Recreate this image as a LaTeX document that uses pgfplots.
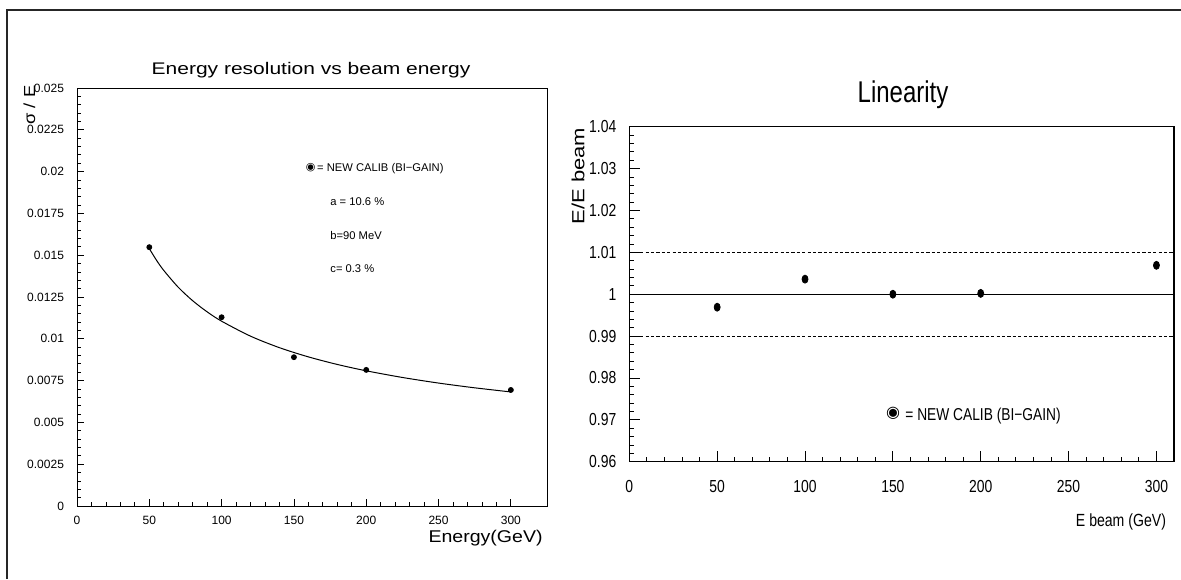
\documentclass[border=0pt]{standalone}
\usepackage{pgfplots}
\usepackage{pgfplotstable}
\pgfplotsset{compat=1.18}
\usepackage{fontspec}
\setmainfont{Liberation Sans}
\newfontfamily\narrowfont[FakeStretch=0.8]{Liberation Sans}
\newfontfamily\widefont[FakeStretch=1.25]{Liberation Sans}
\newfontfamily\medfont[FakeStretch=1.15]{Liberation Sans}
\newfontfamily\symfont{DejaVu Sans}
\newcommand{\fs}[1]{\fontsize{#1}{#1}\selectfont}

\pgfplotstableread{
E res
50 0.01548
100 0.01129
150 0.00890
200 0.00814
300 0.00694
}\resdata

\pgfplotstableread{
E f
50 0.015393
55 0.014696
60 0.014090
70 0.013083
80 0.012277
90 0.011612
100 0.011053
120 0.010158
140 0.009469
160 0.008919
180 0.008466
200 0.008086
225 0.007688
250 0.007353
275 0.007069
300 0.006822
}\fitdata

\pgfplotstableread{
E lin
50 0.9969
100 1.0036
150 1.0000
200 1.0002
300 1.0069
}\lindata

\begin{document}
\begin{tikzpicture}
\useasboundingbox (0,0) rectangle (590.5pt,289.5pt);
\draw[line width=0.8pt, black!85] (3.5pt,0pt) -- (3.5pt,284.5pt) -- (590.5pt,284.5pt);

% ---------------- left panel ----------------
\begin{axis}[at={(38.5pt,36.5pt)}, anchor=south west, scale only axis,
  width=235pt, height=209pt,
  xmin=0, xmax=325, ymin=0, ymax=0.025,
  scaled x ticks=false, scaled y ticks=false,
  xtick={0,50,100,150,200,250,300},
  xticklabels={0,50,100,150,200,250,300},
  ytick={0,0.0025,0.005,0.0075,0.01,0.0125,0.015,0.0175,0.02,0.0225,0.025},
  yticklabels={0,0.0025,0.005,0.0075,0.01,0.0125,0.015,0.0175,0.02,0.0225,0.025},
  minor x tick num=4, minor y tick num=4,
  tick pos=left, tick align=inside,
  major tick length=3.5pt, minor tick length=1.8pt,
  axis line style={line width=0.5pt},
  tick style={line width=0.4pt, black},
  xticklabel style={font=\fs{6}, yshift=-1.5pt},
  yticklabel style={font=\fs{6}, xshift=-3pt},
]
\addplot[no marks, line width=0.5pt, smooth] table[x=E, y=f]{\fitdata};
\addplot[only marks, mark=*, mark size=1.25pt] table[x=E, y=res]{\resdata};
\end{axis}

\node[anchor=base, font=\widefont\fs{8.4}] at (155.5pt,252pt) {Energy resolution vs beam energy};
\node[rotate=90, font=\medfont\fs{8}] at (14.75pt,237pt) {σ / E};
\node[anchor=base east, font=\medfont\fs{8.5}, inner sep=1pt] at (272.5pt,18.5pt) {Energy(GeV)};
\node[font=\symfont\fs{5.5}, inner sep=0pt] at (155.35pt,205.85pt) {◉};
\node[anchor=base west, font=\fs{5.6}, inner sep=0pt] at (158.4pt,203.65pt) {= NEW CALIB (BI−GAIN)};
\node[anchor=base west, font=\fs{5.6}, inner sep=0pt] at (165pt,186.67pt) {a = 10.6 \%};
\node[anchor=base west, font=\fs{5.6}, inner sep=0pt] at (165pt,170pt) {b=90 MeV};
\node[anchor=base west, font=\fs{5.6}, inner sep=0pt] at (165pt,153.3pt) {c= 0.3 \%};

% ---------------- right panel ----------------
\begin{axis}[at={(314.65pt,58.65pt)}, anchor=south west, scale only axis,
  width=272.35pt, height=167.5pt,
  xmin=0, xmax=310, ymin=0.96, ymax=1.04,
  scaled x ticks=false, scaled y ticks=false,
  xtick={0,50,100,150,200,250,300},
  xticklabels={0,50,100,150,200,250,300},
  ytick={0.96,0.97,0.98,0.99,1,1.01,1.02,1.03,1.04},
  yticklabels={0.96,0.97,0.98,0.99,1,1.01,1.02,1.03,1.04},
  minor x tick num=4, minor y tick num=4,
  tick pos=left, tick align=inside,
  major tick length=5.5pt, minor tick length=2.5pt,
  axis line style={line width=0.6pt},
  tick style={line width=0.4pt, black},
  xticklabel style={font=\narrowfont\fs{8.7}, yshift=-6pt},
  yticklabel style={font=\narrowfont\fs{8.7}, xshift=-3pt},
]
\addplot[no marks, line width=0.6pt] coordinates {(0,1) (310,1)};
\addplot[no marks, line width=0.45pt, dash pattern=on 1.6pt off 1.1pt] coordinates {(0,1.01) (310,1.01)};
\addplot[no marks, line width=0.45pt, dash pattern=on 1.6pt off 1.1pt] coordinates {(0,0.99) (310,0.99)};
\addplot[only marks, mark=*, mark size=2pt, mark options={xscale=0.75}] table[x=E, y=lin]{\lindata};
\draw[line width=0.9pt] (rel axis cs:0,0) -- (rel axis cs:1,0);
\end{axis}

\node[anchor=base, font=\narrowfont\fs{15}] at (451.5pt,238pt) {Linearity};
\node[rotate=90, font=\widefont\fs{8.8}] at (289pt,201.5pt) {E/E beam};
\node[anchor=base east, font=\narrowfont\fs{8.8}] at (586.5pt,26.2pt) {E beam (GeV)};
\node[font=\symfont\fs{8}, inner sep=0pt] at (446.5pt,83pt) {◉};
\node[anchor=base west, font=\narrowfont\fs{8.6}, inner sep=0pt] at (452.5pt,79.5pt) {= NEW CALIB (BI−GAIN)};
\end{tikzpicture}
\end{document}
